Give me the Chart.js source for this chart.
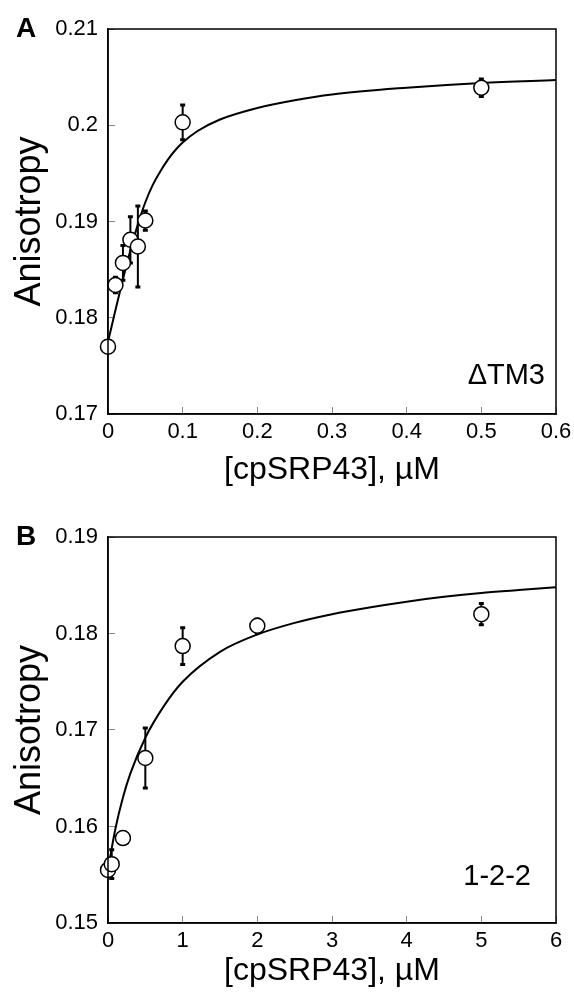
<!DOCTYPE html>
<html>
<head>
<meta charset="utf-8">
<script src="https://cdn.jsdelivr.net/npm/chart.js@4.4.0/dist/chart.umd.min.js"></script>
<style>
  html, body { margin: 0; padding: 0; background: #fff; }
  #wrap { position: relative; width: 574px; height: 992px; }
  canvas { position: absolute; left: 0; }
  #chartA { top: 0; }
  #chartB { top: 496px; }
</style>
</head>
<body>
<div id="wrap">
  <canvas id="chartA" width="574" height="496"></canvas>
  <canvas id="chartB" width="574" height="496"></canvas>
</div>
<script>
// Panel A: dTM3
const concA = [0, 0.01, 0.02, 0.03, 0.04, 0.05, 0.1, 0.5];
const anisoA = [0.1770, 0.1834, 0.1857, 0.1881, 0.1874, 0.1901, 0.2003, 0.2039];
const errA = [0.0004, 0.0008, 0.0018, 0.0024, 0.0042, 0.0010, 0.0018, 0.0009];
const fitXA = [0, 0.01, 0.02, 0.03, 0.04, 0.05, 0.06, 0.07, 0.08, 0.09, 0.1, 0.12, 0.15, 0.2, 0.25, 0.3, 0.4, 0.5, 0.6];
const fitYA = [0.1775, 0.1808, 0.1840, 0.1870, 0.1897, 0.1920, 0.1938, 0.1952, 0.1964, 0.1974, 0.1982, 0.1994, 0.2006, 0.2018, 0.2026, 0.2032, 0.2039, 0.2044, 0.2047];
const xTicksA = [0, 0.1, 0.2, 0.3, 0.4, 0.5, 0.6];
const yTicksA = [0.17, 0.18, 0.19, 0.2, 0.21];

// Panel B: 1-2-2
const concB = [0, 0.05, 0.2, 0.5, 1, 2, 5];
const anisoB = [0.1555, 0.1561, 0.1588, 0.1671, 0.1787, 0.1808, 0.1820];
const errB = [0.0003, 0.0015, 0.0003, 0.0031, 0.0019, 0.0007, 0.0011];
const fitXB = [0, 0.1, 0.2, 0.3, 0.5, 0.75, 1, 1.5, 2, 2.5, 3, 3.5, 4, 4.5, 5, 5.5, 6];
const fitYB = [0.1556, 0.1598, 0.1630, 0.1655, 0.1692, 0.1725, 0.1750, 0.1781, 0.1799, 0.1811, 0.1820, 0.1827, 0.1833, 0.1838, 0.1842, 0.1845, 0.1848];
const xTicksB = [0, 1, 2, 3, 4, 5, 6];
const yTicksB = [0.15, 0.16, 0.17, 0.18, 0.19];

Chart.defaults.font.family = '"Liberation Sans", Arial, Helvetica, sans-serif';
Chart.defaults.color = '#000';

// error bars under the points, using the chart's own scales
const errorBars = {
  id: 'errorBars',
  beforeDatasetsDraw(chart) {
    const ds = chart.data.datasets[0];
    if (!ds.errors) return;
    const xs = chart.scales.x, ys = chart.scales.y;
    const ctx = chart.ctx;
    ctx.save();
    ctx.strokeStyle = '#000';
    ds.data.forEach((p, i) => {
      const e = ds.errors[i];
      const x = xs.getPixelForValue(p.x);
      const y1 = ys.getPixelForValue(p.y - e);
      const y2 = ys.getPixelForValue(p.y + e);
      ctx.lineWidth = 2;
      ctx.beginPath();
      ctx.moveTo(x, y1);
      ctx.lineTo(x, y2);
      ctx.stroke();
      ctx.lineWidth = 3;
      ctx.beginPath();
      ctx.moveTo(x - 2.5, y1); ctx.lineTo(x + 2.5, y1);
      ctx.moveTo(x - 2.5, y2); ctx.lineTo(x + 2.5, y2);
      ctx.stroke();
    });
    ctx.restore();
  }
};

// box round the plot area plus panel letter and construct label
const frame = {
  id: 'frame',
  afterDraw(chart, args, opts) {
    const a = chart.chartArea;
    const ctx = chart.ctx;
    ctx.save();
    ctx.strokeStyle = '#000';
    ctx.lineWidth = 1.5;
    ctx.strokeRect(a.left, a.top, a.right - a.left, a.bottom - a.top);
    ctx.fillStyle = '#000';
    ctx.textBaseline = 'middle';
    ctx.textAlign = 'left';
    ctx.font = 'bold 28px "Liberation Sans", Arial, sans-serif';
    ctx.fillText(opts.letter, 16, a.top);
    ctx.textAlign = 'right';
    ctx.font = '29px "Liberation Sans", Arial, sans-serif';
    ctx.fillText(opts.tag, a.right - opts.tagRight, a.bottom - opts.tagUp);
    ctx.restore();
  }
};

function makeChart(id, o) {
  return new Chart(document.getElementById(id), {
    type: 'scatter',
    data: {
      datasets: [
        {
          data: o.cx.map((x, i) => ({ x: x, y: o.cy[i] })),
          errors: o.err,
          pointRadius: 7.5,
          pointHoverRadius: 7.5,
          pointBackgroundColor: '#fff',
          pointBorderColor: '#000',
          pointBorderWidth: 1.5,
          showLine: false,
          clip: false
        },
        {
          type: 'line',
          data: o.fx.map((x, i) => ({ x: x, y: o.fy[i] })),
          borderColor: '#000',
          borderWidth: 2,
          pointRadius: 0,
          fill: false,
          cubicInterpolationMode: 'monotone'
        }
      ]
    },
    options: {
      responsive: false,
      animation: false,
      events: [],
      layout: { padding: { left: 0, right: 18, top: o.top, bottom: 0 } },
      plugins: {
        legend: { display: false },
        tooltip: { enabled: false },
        frame: { letter: o.letter, tag: o.tag, tagRight: o.tagRight, tagUp: o.tagUp }
      },
      scales: {
        x: {
          type: 'linear',
          min: o.xt[0], max: o.xt[o.xt.length - 1],
          afterBuildTicks: s => { s.ticks = o.xt.map(v => ({ value: v })); },
          afterFit: s => { s.height = o.xh; s.paddingLeft = 0; s.paddingRight = 0; },
          ticks: { autoSkip: false, maxRotation: 0, padding: 12, font: { size: 22 }, color: '#000', callback: v => String(v) },
          grid: { drawOnChartArea: false, tickLength: -7, color: '#888', lineWidth: 1 },
          border: { color: '#000', width: 1.5 },
          title: { display: true, text: '[cpSRP43], µM', font: { size: 32 }, color: '#000', padding: { top: 0, bottom: o.tb } }
        },
        y: {
          type: 'linear',
          min: o.yt[0], max: o.yt[o.yt.length - 1],
          afterBuildTicks: s => { s.ticks = o.yt.map(v => ({ value: v })); },
          afterFit: s => { s.width = 108; s.paddingTop = 0; s.paddingBottom = 0; },
          ticks: { autoSkip: false, padding: 17, font: { size: 22 }, color: '#000', callback: v => String(v) },
          grid: { drawOnChartArea: false, tickLength: -7, color: '#888', lineWidth: 1 },
          border: { color: '#000', width: 1.5 },
          title: { display: true, text: 'Anisotropy', font: { size: 36 }, color: '#000', padding: { top: 8, bottom: 0 } }
        }
      }
    },
    plugins: [errorBars, frame]
  });
}

makeChart('chartA', { cx: concA, cy: anisoA, err: errA, fx: fitXA, fy: fitYA, xt: xTicksA, yt: yTicksA,
  letter: 'A', tag: 'ΔTM3', tagRight: 11, tagUp: 38, top: 29, xh: 82, tb: 7 });
makeChart('chartB', { cx: concB, cy: anisoB, err: errB, fx: fitXB, fy: fitYB, xt: xTicksB, yt: yTicksB,
  letter: 'B', tag: '1-2-2', tagRight: 25, tagUp: 46, top: 41, xh: 69, tb: 2 });
</script>
</body>
</html>
